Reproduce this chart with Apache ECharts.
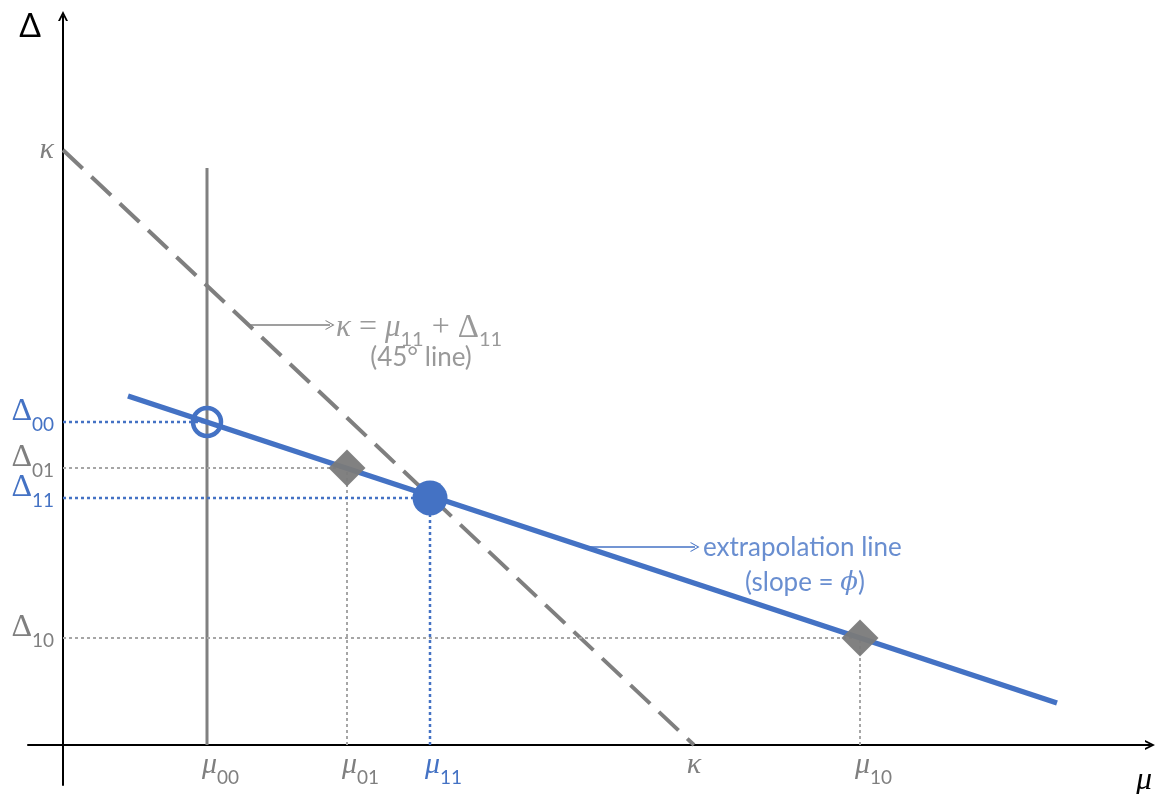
<!DOCTYPE html>
<html>
<head>
<meta charset="utf-8">
<script src="https://cdn.jsdelivr.net/npm/echarts@6/dist/echarts.min.js"></script>
<style>
  html, body { margin: 0; padding: 0; background: #ffffff; }
  #chart { width: 1156px; height: 794px; }
</style>
</head>
<body>
<div id="chart"></div>
<script>
// Outcome points: subscript key, mean μ and gap Δ
const pointKeys = ['00', '01', '11', '10'];
const muValues = [144, 284, 367, 797];
const deltaValues = [323, 277, 247, 107];

// κ = μ + Δ line: where it meets each axis
const kappaMu = 631;
const kappaDelta = 595;

// extrapolation line end points
const extrapolationMu = [65, 994];
const extrapolationDelta = [349, 42];

// top of the vertical line through μ00
const mu00LineTop = 577;

// axis extents; the axes cross at 0 and run a little past the origin
const muRange = [-35, 1087];
const deltaRange = [-40, 729];

// annotation arrows and their texts
const kappaArrowMu = [185, 267];
const kappaArrowDelta = 420;
const kappaNoteAt = [273, 417];
const kappaNote2At = [358, 387];
const slopeArrowMu = [527, 632];
const slopeArrowDelta = 198;
const slopeNoteAt = [640, 197];
const slopeNote2At = [742, 162];

// keys whose axis labels are drawn in blue
const blueMuKeys = ['11'];
const blueDeltaKeys = ['00', '11'];

const BLUE = '#4472C4';
const GRAY = '#7f7f7f';
const DOT_GRAY = '#a6a6a6';
const SERIF = '"Liberation Serif", "DejaVu Serif", serif';
const SANS = 'Lato, "Open Sans", sans-serif';

const chevronThick = 'path://M0,10 L5,0 L10,10 L8,10 L5,4 L2,10 Z';
const chevronThin = 'path://M0,10 L5,0 L10,10 L8.9,10 L5,2.2 L1.1,10 Z';

// rich text styles for symbols with subscripts
function richSet(prefix, color, big, sub) {
  const r = {};
  r[prefix + 'it'] = { fontFamily: SERIF, fontStyle: 'italic', fontSize: big, color: color, lineHeight: 44 };
  r[prefix + 'up'] = { fontFamily: SERIF, fontSize: big + 2, color: color, lineHeight: 44 };
  r[prefix + 'sub'] = { fontFamily: SANS, fontSize: sub, color: color, lineHeight: 19, verticalAlign: 'bottom' };
  r[prefix + 'k'] = { fontFamily: SERIF, fontStyle: 'italic', fontSize: big, color: color, lineHeight: 24, padding: [20, 0, 0, 0] };
  return r;
}
const axisRich = Object.assign({ sp: { width: 27 } }, richSet('g', GRAY, 30, 19), richSet('b', BLUE, 30, 19));

// x-axis labels: μ with subscript, and κ
const xLabelText = {};
pointKeys.forEach((k, i) => {
  const p = blueMuKeys.includes(k) ? 'b' : 'g';
  xLabelText[muValues[i]] = '{sp| }{' + p + 'it|μ}{' + p + 'sub|' + k + '}';
});
xLabelText[kappaMu] = '{git|κ}';
const xLabelValues = muValues.concat([kappaMu]);

// y-axis labels: Δ with subscript, and κ
const yLabelText = {};
pointKeys.forEach((k, i) => {
  const p = blueDeltaKeys.includes(k) ? 'b' : 'g';
  yLabelText[deltaValues[i]] = '{' + p + 'up|Δ}{' + p + 'sub|' + k + '}';
});
yLabelText[kappaDelta] = '{gk|κ}';
const yLabelValues = deltaValues.concat([kappaDelta]);

// dotted guides from each point to the axes
const guideSeries = [];
pointKeys.forEach((k, i) => {
  const color = blueDeltaKeys.includes(k) ? BLUE : DOT_GRAY;
  const width = blueDeltaKeys.includes(k) ? 2.5 : 2;
  guideSeries.push({
    type: 'line', silent: true, symbol: 'none', z: 2,
    lineStyle: { color: color, width: width, type: [3, 3] },
    data: [[0, deltaValues[i]], [muValues[i], deltaValues[i]]]
  });
  if (k !== '00') {
    guideSeries.push({
      type: 'line', silent: true, symbol: 'none', z: 2,
      lineStyle: { color: color, width: width, type: [3, 3] },
      data: [[muValues[i], 0], [muValues[i], deltaValues[i]]]
    });
  }
});

const markerStyle = {
  '00': { symbol: 'circle', symbolSize: 28, itemStyle: { color: 'rgba(0,0,0,0)', borderColor: BLUE, borderWidth: 4.5, opacity: 1 } },
  '01': { symbol: 'diamond', symbolSize: 37, itemStyle: { color: '#7a7a7a', opacity: 0.95 } },
  '11': { symbol: 'circle', symbolSize: 35, itemStyle: { color: BLUE, opacity: 1 } },
  '10': { symbol: 'diamond', symbolSize: 37, itemStyle: { color: '#7a7a7a', opacity: 0.95 } }
};

const noteRich = Object.assign(
  {
    op: { fontFamily: SERIF, fontSize: 32, color: GRAY, lineHeight: 44 },
    plainG: { fontFamily: SANS, fontSize: 26, color: GRAY },
    plainB: { fontFamily: SANS, fontSize: 26, color: BLUE },
    phi: { fontFamily: '"DejaVu Serif", serif', fontStyle: 'italic', fontSize: 26, color: BLUE }
  },
  richSet('n', GRAY, 31, 20)
);

const axisLineStyle = { color: '#000', width: 2 };

const chart = echarts.init(document.getElementById('chart'));
chart.setOption({
  animation: false,
  backgroundColor: '#ffffff',
  grid: { left: 28, right: 6, top: 16, bottom: 9, containLabel: false, outerBoundsMode: 'none' },
  xAxis: {
    type: 'value', min: muRange[0], max: muRange[1],
    name: 'μ', nameLocation: 'end', nameGap: 2,
    nameTextStyle: { fontFamily: SERIF, fontStyle: 'italic', fontSize: 32, color: '#000', align: 'right', verticalAlign: 'top', padding: [20, 0, 0, 0] },
    axisLine: { onZero: true, symbol: ['none', chevronThick], symbolSize: [12, 10], lineStyle: axisLineStyle },
    axisTick: { show: false },
    splitLine: { show: false },
    axisLabel: {
      customValues: xLabelValues, margin: -42, rich: axisRich,
      formatter: v => xLabelText[v] || ''
    }
  },
  yAxis: {
    type: 'value', min: deltaRange[0], max: deltaRange[1],
    name: 'Δ', nameLocation: 'end', nameGap: -11,
    nameTextStyle: { fontFamily: SANS, fontSize: 32, color: '#000', align: 'right', verticalAlign: 'middle', padding: [0, 22, 0, 0] },
    axisLine: { onZero: true, symbol: ['none', chevronThick], symbolSize: [12, 10], lineStyle: axisLineStyle },
    axisTick: { show: false },
    splitLine: { show: false },
    axisLabel: {
      customValues: yLabelValues, margin: -26, rich: axisRich, padding: [0, 0, 20, 0],
      formatter: v => yLabelText[v] || ''
    }
  },
  series: [
    // vertical line through μ00
    {
      type: 'line', silent: true, symbol: 'none', z: 1,
      lineStyle: { color: '#808080', width: 3 },
      data: [[muValues[0], 0], [muValues[0], mu00LineTop]]
    },
    // κ = μ + Δ (45° line)
    {
      type: 'line', silent: true, symbol: 'none', z: 1,
      lineStyle: { color: GRAY, width: 4, type: [27, 12] },
      data: [[0, kappaDelta], [kappaMu, 0]]
    },
    ...guideSeries,
    // extrapolation line
    {
      type: 'line', silent: true, symbol: 'none', z: 3,
      lineStyle: { color: BLUE, width: 5.5 },
      data: [[extrapolationMu[0], extrapolationDelta[0]], [extrapolationMu[1], extrapolationDelta[1]]]
    },
    // outcome markers
    {
      type: 'scatter', silent: true, z: 4,
      data: pointKeys.map((k, i) => Object.assign({ value: [muValues[i], deltaValues[i]] }, markerStyle[k]))
    },
    // annotations with arrows
    {
      type: 'scatter', silent: true, z: 5, symbolSize: 0,
      label: { show: true, position: 'inside', verticalAlign: 'middle', rich: noteRich },
      data: [
        { value: kappaNoteAt, label: { align: 'left', formatter: '{nit|κ}{op| = }{nit|μ}{nsub|11}{op| + }{nup|Δ}{nsub|11}' } },
        { value: kappaNote2At, label: { align: 'center', formatter: '{plainG|(45° line)}' } },
        { value: slopeNoteAt, label: { align: 'left', formatter: '{plainB|extrapolation line}' } },
        { value: slopeNote2At, label: { align: 'center', formatter: '{plainB|(slope = }{phi|ϕ}{plainB|)}' } }
      ],
      markLine: {
        silent: true, symbol: ['none', chevronThin], symbolSize: [10, 9],
        label: { show: false },
        lineStyle: { type: 'solid', width: 1.5 },
        data: [
          [{ coord: [kappaArrowMu[0], kappaArrowDelta], lineStyle: { color: GRAY, type: 'solid', width: 1.5 } }, { coord: [kappaArrowMu[1], kappaArrowDelta] }],
          [{ coord: [slopeArrowMu[0], slopeArrowDelta], lineStyle: { color: BLUE, type: 'solid', width: 1.5 } }, { coord: [slopeArrowMu[1], slopeArrowDelta] }]
        ]
      }
    }
  ]
});
</script>
</body>
</html>
